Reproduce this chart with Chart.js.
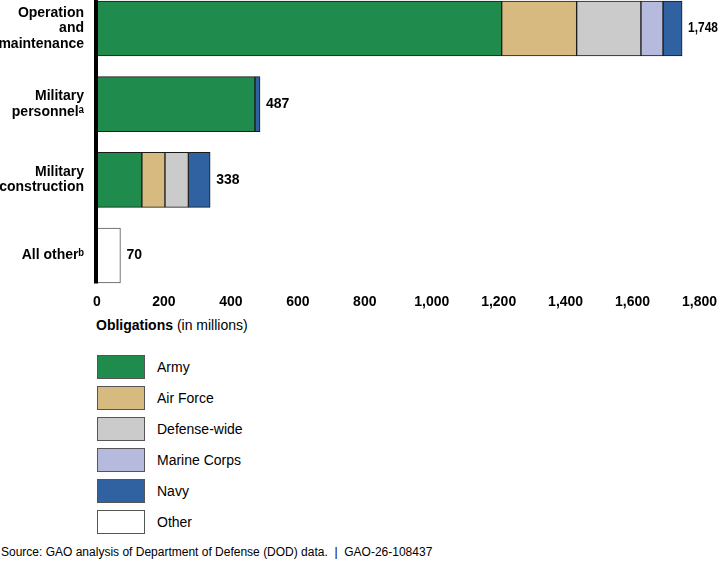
<!DOCTYPE html>
<html>
<head>
<meta charset="utf-8">
<script src="https://cdn.jsdelivr.net/npm/chart.js@4/dist/chart.umd.min.js"></script>
<style>
  html, body { margin: 0; padding: 0; background: #fff; }
  body { width: 720px; height: 563px; position: relative; overflow: hidden; font-family: "Liberation Sans", Arial, sans-serif; color: #000; }
  #wrap { position: absolute; left: 0; top: 0; width: 720px; height: 312px; }
  #axisTitle { position: absolute; left: 96px; top: 316px; font-size: 14px; line-height: 18px; }
  #legend { position: absolute; left: 97px; top: 355px; }
  .item { position: absolute; left: 0; width: 300px; height: 24px; }
  .box { position: absolute; left: 0; top: 0; width: 46px; height: 22px; border: 1px solid #555; }
  .lab { position: absolute; left: 60px; top: 0; line-height: 24px; font-size: 14px; }
  #source { position: absolute; left: 1px; top: 544px; font-size: 12px; line-height: 16px; }
</style>
</head>
<body>
<div id="wrap"><canvas id="c" width="720" height="312"></canvas></div>
<div id="axisTitle"><b>Obligations</b> (in millions)</div>
<div id="legend"></div>
<div id="source">Source: GAO analysis of Department of Defense (DOD) data.&nbsp; |&nbsp; GAO-26-108437</div>
<script>
const categories = [['Operation', 'and', 'maintenance'], ['Military', 'personnel\u1d43'], ['Military', 'construction'], ['All other\u1d47']];
const army        = [1209, 472, 134, null];
const airForce    = [224, null, 69, null];
const defenseWide = [192, null, 70, null];
const marineCorps = [66, null, null, null];
const navy        = [57, 15, 65, null];
const other       = [null, null, null, 70];
const xTicks = [0, 200, 400, 600, 800, 1000, 1200, 1400, 1600, 1800];

const seriesNames  = ['Army', 'Air Force', 'Defense-wide', 'Marine Corps', 'Navy', 'Other'];
const seriesData   = [army, airForce, defenseWide, marineCorps, navy, other];
const seriesColors = ['#1f8b4c', '#d6ba80', '#cbcbcb', '#b6badd', '#3062a2', '#ffffff'];
const seriesBorders = ['#1a1a1a', '#1a1a1a', '#1a1a1a', '#1a1a1a', '#1a1a1a', '#555555'];

const FONT = '"Liberation Sans", Arial, sans-serif';

const datasets = seriesNames.map((n, i) => ({
  label: n,
  data: seriesData[i],
  backgroundColor: seriesColors[i],
  borderColor: seriesBorders[i],
  borderWidth: 1,
  borderSkipped: false,
  barThickness: 55,
  clip: false
}));

const totals = categories.map((_, ci) => seriesData.reduce((s, arr) => s + (arr[ci] || 0), 0));

const extras = {
  id: 'extras',
  afterDatasetsDraw(chart) {
    const ctx = chart.ctx;
    const xs = chart.scales.x, ys = chart.scales.y;
    const x0 = xs.getPixelForValue(0);
    const top = ys.getPixelForValue(0) - 28.5;
    const bottom = ys.getPixelForValue(categories.length - 1) + 28;
    ctx.save();
    ctx.fillStyle = '#000';
    ctx.fillRect(x0 - 3, top, 4, bottom - top);
    ctx.font = 'bold 14px ' + FONT;
    ctx.textAlign = 'left';
    ctx.textBaseline = 'middle';
    totals.forEach((t, i) => {
      const x = xs.getPixelForValue(t) + 6;
      ctx.fillText(t.toLocaleString('en-US'), x, ys.getPixelForValue(i), chart.width - x - 2);
    });
    ctx.restore();
  }
};

new Chart(document.getElementById('c'), {
  type: 'bar',
  data: { labels: categories, datasets },
  options: {
    indexAxis: 'y',
    responsive: false,
    animation: false,
    layout: { padding: { top: 28.5, right: 20.5, bottom: 0, left: 0 } },
    plugins: { legend: { display: false }, tooltip: { enabled: false } },
    scales: {
      x: {
        type: 'linear',
        stacked: true,
        min: 0, max: 1800,
        afterBuildTicks(scale) { scale.ticks = xTicks.map(v => ({ value: v })); },
        afterFit(scale) { scale.height = 56.5; scale.paddingLeft = 0; scale.paddingRight = 0; },
        grid: { display: false, drawTicks: false },
        border: { display: false },
        ticks: {
          padding: 38,
          color: '#000',
          font: { family: FONT, size: 14, weight: 'bold' },
          callback: v => v.toLocaleString('en-US')
        }
      },
      y: {
        type: 'category',
        stacked: true,
        offset: false,
        afterFit(scale) { scale.width = 97; scale.paddingTop = 0; scale.paddingBottom = 0; },
        grid: { display: false, drawTicks: false },
        border: { display: false },
        ticks: {
          padding: 13,
          color: '#000',
          font: { family: FONT, size: 14, weight: 'bold', lineHeight: 1.1 }
        }
      }
    }
  },
  plugins: [extras]
});

const leg = document.getElementById('legend');
seriesNames.forEach((n, i) => {
  const it = document.createElement('div');
  it.className = 'item';
  it.style.top = (i * 31) + 'px';
  it.innerHTML = '<div class="box" style="background:' + seriesColors[i] + '"></div><div class="lab">' + n + '</div>';
  leg.appendChild(it);
});
</script>
</body>
</html>
